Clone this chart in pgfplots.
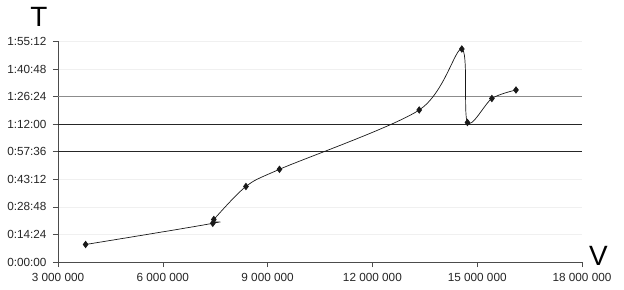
\documentclass[border=0pt]{standalone}
\usepackage{pgfplots}
\pgfplotsset{compat=1.18}
\usepackage{fontspec}
\setmainfont{Liberation Sans}
\begin{document}
\begin{tikzpicture}
\path[use as bounding box] (-58bp,-28bp) rectangle (566bp,262bp);
\begin{axis}[
  scale only axis,
  width=524bp, height=220.5bp,
  xmin=3, xmax=18, ymin=0, ymax=6912,
  axis x line*=bottom, axis y line*=left,
  axis line style={draw=black!70, line width=0.6pt},
  xtick={3,6,9,12,15,18},
  xticklabels={3 000 000,6 000 000,9 000 000,12 000 000,15 000 000,18 000 000},
  ytick={0,864,1728,2592,3456,4320,5184,6048,6912},
  yticklabels={0:00:00,0:14:24,0:28:48,0:43:12,0:57:36,1:12:00,1:26:24,1:40:48,1:55:12},
  tick align=outside,
  major tick length=5bp,
  tick style={draw=black!70, line width=0.6pt},
  ticklabel style={font=\fontsize{11.8}{13}\selectfont, text=black!85},
  yticklabel style={xshift=-3bp},
  xticklabel style={yshift=-3bp},
  /pgf/number format/assume math mode=true,
  ymajorgrids,
  grid style={draw=black!6, line width=0.6pt},
  extra y ticks={3456,4320},
  extra y tick labels={},
  extra y tick style={grid style={draw=black!85, line width=0.8pt}},
  clip=false,
]
\addplot[draw=black!45, line width=0.8pt, forget plot] coordinates {(3,5184) (18,5184)};
\addplot[draw=black!90, line width=0.7pt, smooth, tension=0.5,
  mark=diamond*, mark size=3.2bp, mark options={fill=black!90, draw=black!90}]
  coordinates {
  (3.79,549) (7.43,1213) (7.46,1332) (8.38,2367) (9.34,2906)
  (13.34,4765) (14.56,6677) (14.72,4373) (15.42,5125) (16.11,5392)
  };
\end{axis}
\node[font=\fontsize{28}{30}\selectfont, anchor=base, inner sep=0pt] at (-19bp,235bp) {T};
\node[font=\fontsize{28}{30}\selectfont, anchor=base, inner sep=0pt] at (540.5bp,-3bp) {V};
\end{tikzpicture}
\end{document}
